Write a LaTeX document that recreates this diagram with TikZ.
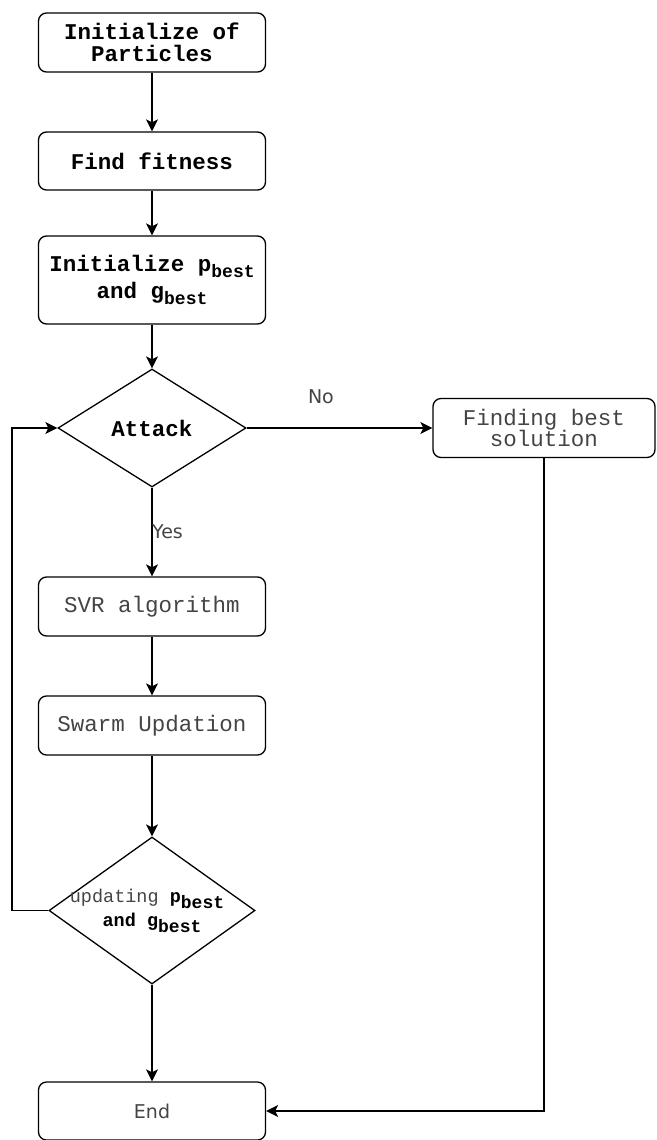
\documentclass[tikz,border=0pt]{standalone}
\usepackage{fontspec}
\setmonofont{Liberation Mono}
\setsansfont{DejaVu Sans}
\usetikzlibrary{arrows.meta,shapes.geometric}
\newcommand\lsub[1]{\raisebox{-6pt}{\fontsize{18}{18}\selectfont #1}}
\newcommand\bigmono{\fontsize{22.5}{21.5}\selectfont\ttfamily}
\newcommand\smallmono{\fontsize{18.5}{22}\selectfont\ttfamily}
\definecolor{txtgray}{HTML}{444444}
\begin{document}
\begin{tikzpicture}[x=1pt,y=-1pt,
  box/.style={draw, line width=1.3pt, rounded corners=8pt, minimum width=227pt,
    minimum height=59pt, inner sep=0pt, align=center, font=\bigmono},
  bbox/.style={box, font=\bigmono\bfseries},
  gbox/.style={box, text=txtgray},
  dia/.style={draw, diamond, line width=1.3pt, inner sep=0pt},
  tip/.style={-{Stealth[length=12pt,width=12pt,inset=3pt]}},
  arr/.style={line width=1.3pt, tip},
  ln/.style={line width=1.3pt},
  lbl/.style={font=\fontsize{19}{19}\selectfont\sffamily, text=txtgray, inner sep=0pt}]
\useasboundingbox (0,0) rectangle (656,1140);

\node[bbox] (b1) at (152,42.5) {Initialize of\\Particles};
\node[bbox, minimum height=58pt] (b2) at (152,161) {Find fitness};
\node[bbox, minimum height=88pt] (b3) at (152,280) {Initialize p\lsub{best}\\[4pt]and g\lsub{best}};
\node[dia, minimum width=188pt, minimum height=118pt,
  label={[font=\bigmono\bfseries, inner sep=0pt]center:Attack}] (d1) at (152,428) {};
\node[gbox, minimum width=222pt] (fb) at (544,428) {Finding best\\solution};
\node[gbox] (svr) at (152,606.5) {SVR algorithm};
\node[gbox] (sw) at (152,725.5) {Swarm Updation};
\node[dia, minimum width=206pt, minimum height=147pt,
  label={[font=\smallmono, align=center, inner sep=0pt, xshift=-5pt]center:{\textcolor{txtgray}{updating} \textbf{p\lsub{best}}\\[2pt]\hspace*{10pt}\textbf{and g\lsub{best}}}}] (d2) at (152,910.5) {};
\node[box, minimum height=58pt, font=\fontsize{19}{19}\selectfont\sffamily, text=txtgray] (end) at (152,1111) {End};

\draw[arr] (b1) -- (b2);
\draw[arr] (b2) -- (b3);
\draw[arr] (b3) -- (d1);
\draw[arr] (d1.east) -- node[lbl, above=24pt, pos=0.4] (no) {No} (fb.west);
\draw[arr] (d1.south) -- (svr.north);
\node[lbl, anchor=west] (yes) at (152,532) {Yes};
\draw[arr] (svr) -- (sw);
\draw[arr] (sw) -- (d2);
\draw[arr] (d2.south) -- (end.north);
\coordinate (lp) at (12,910.5);
\draw[arr] (d2.west) -- (lp) |- (d1.west);
\draw[arr] (fb.south) |- (end.east);
\end{tikzpicture}
\end{document}
